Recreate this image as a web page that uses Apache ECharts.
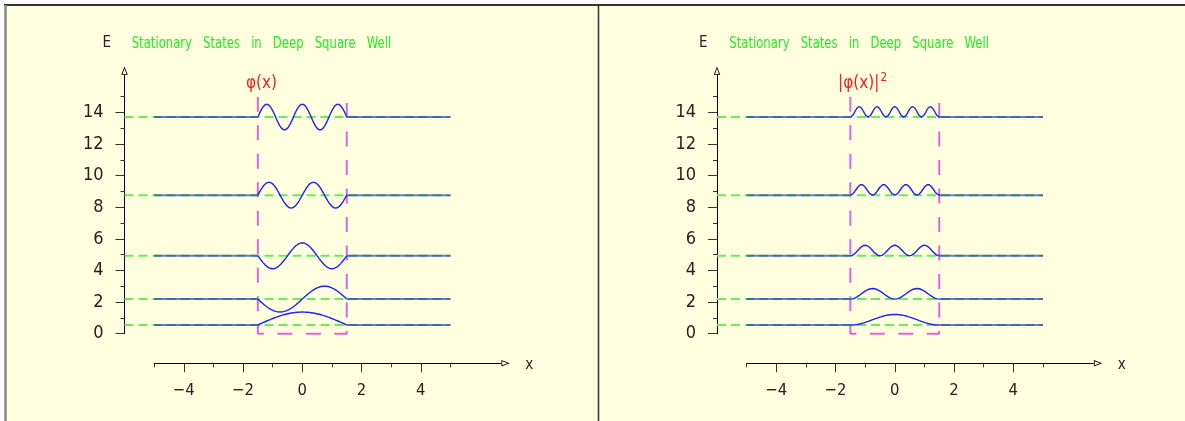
<!DOCTYPE html>
<html>
<head>
<meta charset="utf-8">
<script src="https://cdn.jsdelivr.net/npm/echarts@6/dist/echarts.min.js"></script>
<style>
  html, body { margin: 0; padding: 0; background: #ffffff; }
  #chart { width: 1185px; height: 421px; }
</style>
</head>
<body>
<div id="chart"></div>
<script>
// Energies of the five lowest stationary states
const levels = [0.55, 2.19, 4.93, 8.77, 13.71];
const quantumNumbers = [1, 2, 3, 4, 5];
// Walls of the well and the height they are drawn to
const wellEdges = [-1.5, 1.5];
const wellTop = 15;
// Peak height of φ and of |φ|² above each level
const waveAmplitude = 0.82;
const densityAmplitude = 0.67;
// Flat parts of each state outside the well, and start of the level markers
const flatRange = [-5, 5];
const markerStart = -6;
// Axis ticks and labels
const yMajorTicks = [0, 2, 4, 6, 8, 10, 12, 14];
const yMinorTicks = [1, 3, 5, 7, 9, 11, 13, 15];
const xMajorTicks = [-4, -2, 0, 2, 4];
const xMinorTicks = [-5, -3, -1, 1, 3, 5];
const titleText = 'Stationary   States   in   Deep   Square   Well';
const panelLabels = ['{m|φ(x)}', '{m||φ(x)|}{s|2}'];

// ---- layout ----
const UX = 29.63;        // px per x unit
const UY = 15.8;         // px per energy unit
const Y_AXIS_END = 16.37; // base of the arrow on E
const X_AXIS_END = 6.7;   // base of the arrow on x
const FONT = '"Liberation Sans Narrow", "DejaVu Sans Condensed", "Arial Narrow", sans-serif';
const ARROW = 'path://M3.5,0L7,9L0,9Z M3.5,2.4L1.4,8.1L5.6,8.1Z';
const panels = [
  { x0: 302.3, y0: 333.7, xAxisY: 363.3, titleX: 131.7, eX: 106.7, labelX: 261.5 },
  { x0: 894.8, y0: 333.7, xAxisY: 363.3, titleX: 729.3, eX: 703.3, labelX: 862.5 }
];

// standing wave of the n-th state, centred well
function mode(n, x) {
  const L = wellEdges[1] - wellEdges[0];
  const k = n * Math.PI / L;
  const c = (wellEdges[0] + wellEdges[1]) / 2;
  return n % 2 ? Math.cos(k * (x - c)) : Math.sin(k * (x - c));
}

function curve(n, E, squared) {
  const pts = [];
  const steps = 160;
  for (let i = 0; i <= steps; i++) {
    const x = wellEdges[0] + (wellEdges[1] - wellEdges[0]) * i / steps;
    const v = mode(n, x);
    pts.push([x, squared ? E + densityAmplitude * v * v : E + waveAmplitude * v]);
  }
  return pts;
}

const grid = [], xAxis = [], yAxis = [], series = [];
const graphic = [
  { type: 'rect', shape: { x: 5, y: 5, width: 1180, height: 416 }, style: { fill: '#ffffe0' }, z: -10 },
  { type: 'line', shape: { x1: 4, y1: 5, x2: 1185, y2: 5 }, style: { stroke: '#333', lineWidth: 2 }, z: -9 },
  { type: 'line', shape: { x1: 5.5, y1: 5, x2: 5.5, y2: 421 }, style: { stroke: '#888', lineWidth: 2.5 }, z: -9 },
  { type: 'line', shape: { x1: 598.5, y1: 5, x2: 598.5, y2: 421 }, style: { stroke: '#333', lineWidth: 1.5 }, z: -9 }
];

const tickColor = '#333';
const labelColor = '#222';

panels.forEach((p, k) => {
  const gA = grid.length;
  grid.push({ left: p.x0 + markerStart * UX, top: p.y0 - Y_AXIS_END * UY,
              width: (flatRange[1] - markerStart) * UX, height: Y_AXIS_END * UY, outerBoundsMode: 'none' });
  const gB = grid.length;
  grid.push({ left: p.x0 + flatRange[0] * UX, top: p.xAxisY - 10,
              width: (X_AXIS_END - flatRange[0]) * UX, height: 10, outerBoundsMode: 'none' });

  const xA = xAxis.length;
  xAxis.push({ gridIndex: gA, type: 'value', min: markerStart, max: flatRange[1], show: false });
  xAxis.push({
    gridIndex: gB, type: 'value', position: 'bottom', min: flatRange[0], max: X_AXIS_END,
    axisLine: { show: true, onZero: false, lineStyle: { color: '#000', width: 1 },
                symbol: ['none', ARROW], symbolSize: [6.5, 9.5], symbolOffset: [0, 4.75] },
    axisTick: { show: true, customValues: xMajorTicks, length: 9, lineStyle: { color: tickColor } },
    axisLabel: { show: true, customValues: xMajorTicks, margin: 19, fontSize: 16.5, fontFamily: FONT, color: labelColor,
                 formatter: v => String(v).replace('-', '\u2212') },
    splitLine: { show: false }
  });
  xAxis.push({
    gridIndex: gB, type: 'value', position: 'bottom', min: flatRange[0], max: X_AXIS_END,
    axisLine: { show: false, onZero: false },
    axisTick: { show: true, customValues: xMinorTicks, length: 4, lineStyle: { color: tickColor } },
    axisLabel: { show: false }, splitLine: { show: false }
  });

  const yA = yAxis.length;
  yAxis.push({
    gridIndex: gA, type: 'value', position: 'left', min: 0, max: Y_AXIS_END,
    axisLine: { show: true, onZero: false, lineStyle: { color: '#000', width: 1 },
                symbol: ['none', ARROW], symbolSize: [6.5, 9], symbolOffset: [0, 4.5] },
    axisTick: { show: true, customValues: yMajorTicks, length: 9, lineStyle: { color: tickColor } },
    axisLabel: { show: true, customValues: yMajorTicks, margin: 21, fontSize: 18, fontFamily: FONT, color: labelColor },
    splitLine: { show: false }
  });
  yAxis.push({
    gridIndex: gA, type: 'value', position: 'left', min: 0, max: Y_AXIS_END,
    axisLine: { show: false, onZero: false },
    axisTick: { show: true, customValues: yMinorTicks, length: 4, lineStyle: { color: tickColor } },
    axisLabel: { show: false }, splitLine: { show: false }
  });
  yAxis.push({ gridIndex: gB, type: 'value', min: 0, max: 1, show: false });

  const base = { type: 'line', xAxisIndex: xA, yAxisIndex: yA, symbol: 'none', silent: true,
                 clip: false, animation: false };

  // dashed walls of the well
  series.push(Object.assign({}, base, {
    z: 1,
    data: [[wellEdges[0], wellTop], [wellEdges[0], 0], [wellEdges[1], 0], [wellEdges[1], wellTop]],
    lineStyle: { color: '#dd66dd', width: 2, type: [15, 13.5] }
  }));

  levels.forEach((E, i) => {
    const n = quantumNumbers[i];
    // level marker
    series.push(Object.assign({}, base, {
      z: 2,
      data: [[markerStart, E], [flatRange[1], E]],
      lineStyle: { color: '#66ee5a', width: 2, type: [9, 5] }
    }));
    // state outside the well
    series.push(Object.assign({}, base, {
      z: 3,
      data: [[flatRange[0], E], [wellEdges[0], E]],
      lineStyle: { color: 'rgba(30,30,200,0.62)', width: 2 }
    }));
    series.push(Object.assign({}, base, {
      z: 3,
      data: [[wellEdges[1], E], [flatRange[1], E]],
      lineStyle: { color: 'rgba(30,30,200,0.62)', width: 2 }
    }));
    // state inside the well
    series.push(Object.assign({}, base, {
      z: 4,
      data: curve(n, E, k === 1),
      lineStyle: { color: '#1f1fff', width: 1.4 }
    }));
  });

  graphic.push({ type: 'text', x: p.titleX, y: 43.5, scaleX: 0.81, style: { text: titleText, fill: '#22ee22',
                 font: '16px ' + FONT, textVerticalAlign: 'middle' } });
  graphic.push({ type: 'text', x: p.eX, y: 43.5, style: { text: 'E', fill: '#222',
                 font: '15px ' + FONT, textAlign: 'center', textVerticalAlign: 'middle' } });
  graphic.push({ type: 'text', x: p.labelX, y: 84, style: {
                 text: panelLabels[k], fill: '#ff1a1a', textAlign: 'center', textVerticalAlign: 'middle',
                 rich: {
                   m: { fontSize: 17, fontFamily: FONT, lineHeight: 24, fill: '#ff1a1a', verticalAlign: 'middle' },
                   s: { fontSize: 11.5, fontFamily: FONT, lineHeight: 12, fill: '#ff1a1a', verticalAlign: 'top', padding: [0, 0, 0, 1] }
                 } } });
  graphic.push({ type: 'text', x: p.x0 + 227, y: 365.5, style: { text: 'x', fill: '#222',
                 font: '15px ' + FONT, textAlign: 'center', textVerticalAlign: 'middle' } });
});

const chart = echarts.init(document.getElementById('chart'), null, { renderer: 'canvas' });
chart.setOption({
  backgroundColor: '#ffffff',
  animation: false,
  grid, xAxis, yAxis, series, graphic
});
</script>
</body>
</html>
